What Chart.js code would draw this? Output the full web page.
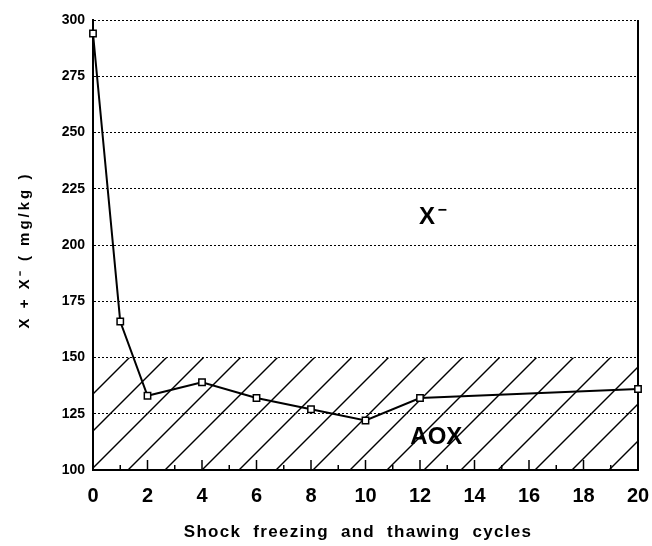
<!DOCTYPE html>
<html>
<head>
<meta charset="utf-8">
<script src="https://cdn.jsdelivr.net/npm/chart.js@4.4.0/dist/chart.umd.min.js"></script>
<style>
  html, body { margin: 0; padding: 0; background: #fff; }
  #wrap { width: 652px; height: 546px; }
</style>
</head>
<body>
<div id="wrap"><canvas id="cyclesChart"></canvas></div>
<script>
// X + X- content vs shock freezing / thawing cycles
const cycles = [0, 1, 2, 4, 6, 8, 10, 12, 20];
const totalHalogen = [294, 166, 133, 139, 132, 127, 122, 132, 136];
const xRange = [0, 20];
const yRange = [100, 300];
const aoxLimit = 150;

const FONT = "'Liberation Sans', Arial, sans-serif";

// hatch, inward ticks, right frame, zone labels and titles
const paperPlugin = {
  id: 'paper',
  beforeDraw(chart) {
    const ctx = chart.ctx;
    ctx.save();
    ctx.fillStyle = '#fff';
    ctx.fillRect(0, 0, chart.width, chart.height);
    ctx.restore();
  },
  beforeDatasetsDraw(chart) {
    const { ctx, chartArea: a, scales: { x, y } } = chart;
    const top = y.getPixelForValue(aoxLimit);
    const bottom = y.getPixelForValue(y.min);
    const h = bottom - top;

    // AOX hatched band
    ctx.save();
    ctx.beginPath();
    ctx.rect(a.left, top, a.right - a.left, h);
    ctx.clip();
    ctx.strokeStyle = '#000';
    ctx.lineWidth = 1.4;
    const gap = 37;
    for (let sx = a.left + 35 - gap * 4; sx < a.right + gap; sx += gap) {
      ctx.beginPath();
      ctx.moveTo(sx, bottom);
      ctx.lineTo(sx + h, top);
      ctx.stroke();
    }
    ctx.restore();

    ctx.save();
    ctx.strokeStyle = '#000';
    // right frame
    ctx.lineWidth = 2;
    ctx.beginPath();
    ctx.moveTo(a.right, a.top);
    ctx.lineTo(a.right, a.bottom);
    ctx.stroke();
    // inward x ticks, long on even cycles
    ctx.lineWidth = 1.5;
    for (let v = x.min; v <= x.max; v++) {
      const px = x.getPixelForValue(v);
      const len = v % 2 === 0 ? 10 : 5;
      ctx.beginPath();
      ctx.moveTo(px, a.bottom);
      ctx.lineTo(px, a.bottom - len);
      ctx.stroke();
    }
    ctx.restore();
  },
  afterDraw(chart) {
    const { ctx, scales: { x, y } } = chart;
    ctx.save();
    ctx.fillStyle = '#000';
    ctx.textBaseline = 'middle';

    // zone labels
    ctx.textAlign = 'center';
    ctx.font = 'bold 24px ' + FONT;
    ctx.fillText('AOX', x.getPixelForValue(12.6), y.getPixelForValue(114.5));
    const xx = x.getPixelForValue(12.26);
    const xy = y.getPixelForValue(212.5);
    ctx.fillText('X', xx, xy);
    ctx.font = 'bold 16px ' + FONT;
    ctx.fillText('−', xx + 15, xy - 6);

    // axis titles
    ctx.font = 'bold 17px ' + FONT;
    ctx.letterSpacing = '1.3px';
    ctx.fillText('Shock  freezing  and  thawing  cycles', 358, 532);

    ctx.translate(25, 250);
    ctx.rotate(-Math.PI / 2);
    ctx.font = 'bold 15px ' + FONT;
    ctx.letterSpacing = '3px';
    ctx.fillText('X + X⁻ ( mg/kg )', 0, 0);
    ctx.restore();
  }
};

const ctx = document.getElementById('cyclesChart').getContext('2d');
new Chart(ctx, {
  type: 'line',
  data: {
    datasets: [{
      label: 'X + X-',
      data: cycles.map((c, i) => ({ x: c, y: totalHalogen[i] })),
      borderColor: '#000',
      borderWidth: 2,
      tension: 0,
      clip: false,
      pointStyle: 'rect',
      pointRadius: 4.5,
      pointBackgroundColor: '#fff',
      pointBorderColor: '#000',
      pointBorderWidth: 1.5
    }]
  },
  options: {
    responsive: true,
    maintainAspectRatio: false,
    animation: false,
    layout: {
      padding: { top: 20, right: 14, left: 0, bottom: 0 }
    },
    plugins: {
      legend: { display: false },
      tooltip: { enabled: false }
    },
    scales: {
      x: {
        type: 'linear',
        min: xRange[0],
        max: xRange[1],
        ticks: {
          stepSize: 2,
          color: '#000',
          padding: 6,
          font: { family: FONT, size: 20, weight: 'bold' }
        },
        grid: { display: false },
        border: { display: true, color: '#000', width: 2 },
        afterFit: (scale) => {
          scale.height = 76;
          scale.paddingLeft = 0;
          scale.paddingRight = 0;
        }
      },
      y: {
        min: yRange[0],
        max: yRange[1],
        ticks: {
          stepSize: 25,
          color: '#000',
          padding: 8,
          font: { family: FONT, size: 14, weight: 'bold' }
        },
        grid: { color: '#000', lineWidth: 1, drawTicks: false },
        border: { display: true, color: '#000', width: 2, dash: [2, 2] },
        afterFit: (scale) => { scale.width = 93; }
      }
    }
  },
  plugins: [paperPlugin]
});
</script>
</body>
</html>
